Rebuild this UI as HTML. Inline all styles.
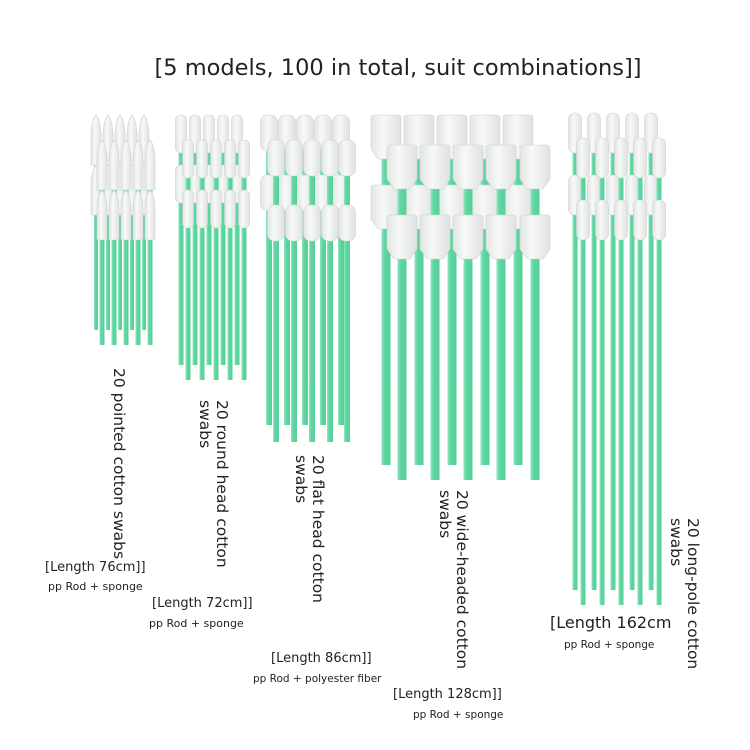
<!DOCTYPE html>
<html><head><meta charset="utf-8"><style>
html,body{margin:0;padding:0;background:#fff;}
svg{display:block;}
text{font-family:"DejaVu Sans","Liberation Sans",sans-serif;fill:#222;}
</style></head><body>
<svg width="750" height="750" viewBox="0 0 750 750" xmlns="http://www.w3.org/2000/svg">
<defs>
<linearGradient id="hg" x1="0" x2="1" y1="0" y2="0"><stop offset="0" stop-color="#e2e5e4"/><stop offset="0.4" stop-color="#f7f8f8"/><stop offset="1" stop-color="#dfe2e1"/></linearGradient>
<linearGradient id="rg" x1="0" x2="1" y1="0" y2="0"><stop offset="0" stop-color="#8fe6bf"/><stop offset="0.35" stop-color="#5fd6a1"/><stop offset="1" stop-color="#55cf98"/></linearGradient>
<g id="p1h"><path d="M-5,50 L-5,18 Q-4,4 0,0 Q4,4 5,18 L5,50 Z" fill="url(#hg)" stroke="#cdd2d0" stroke-width="0.6"/></g>
<g id="c1a"><rect x="-2" y="150" width="4" height="180" fill="url(#rg)"/><use href="#p1h" y="115"/><use href="#p1h" y="165"/></g>
<g id="c1b"><rect x="-2.5" y="160" width="5" height="185" fill="url(#rg)"/><use href="#p1h" y="140"/><use href="#p1h" y="190"/></g>
<g id="p2h"><rect x="-5.5" y="0" width="11" height="38" rx="5" fill="url(#hg)" stroke="#cdd2d0" stroke-width="0.6"/></g>
<g id="c2a"><rect x="-2.5" y="150" width="5" height="215" fill="url(#rg)"/><use href="#p2h" y="115"/><use href="#p2h" y="165"/></g>
<g id="c2b"><rect x="-2.5" y="160" width="5" height="220" fill="url(#rg)"/><use href="#p2h" y="140"/><use href="#p2h" y="190"/></g>
<g id="p3h"><rect x="-8.5" y="0" width="17" height="36" rx="7" fill="url(#hg)" stroke="#cdd2d0" stroke-width="0.6"/></g>
<g id="c3a"><rect x="-3" y="150" width="6" height="275" fill="url(#rg)"/><use href="#p3h" y="115"/><use href="#p3h" y="175"/></g>
<g id="c3b"><rect x="-3" y="170" width="6" height="272" fill="url(#rg)"/><use href="#p3h" y="140"/><use href="#p3h" y="205"/></g>
<g id="p4h"><path d="M-15,3 Q-15,0 -12,0 L12,0 Q15,0 15,3 L15,34 L8,44 L-8,44 L-15,34 Z" fill="url(#hg)" stroke="#cdd2d0" stroke-width="0.6"/></g>
<g id="c4a"><rect x="-4.5" y="150" width="9" height="315" fill="url(#rg)"/><use href="#p4h" y="115"/><use href="#p4h" y="185"/></g>
<g id="c4b"><rect x="-4.5" y="180" width="9" height="300" fill="url(#rg)"/><use href="#p4h" y="145"/><use href="#p4h" y="215"/></g>
<g id="p5h"><rect x="-6.5" y="0" width="13" height="40" rx="6" fill="url(#hg)" stroke="#cdd2d0" stroke-width="0.6"/></g>
<g id="c5a"><rect x="-2.5" y="150" width="5" height="440" fill="url(#rg)"/><use href="#p5h" y="113"/><use href="#p5h" y="175"/></g>
<g id="c5b"><rect x="-2.5" y="170" width="5" height="435" fill="url(#rg)"/><use href="#p5h" y="138"/><use href="#p5h" y="200"/></g>
</defs>

<text x="398" y="75" font-size="22.5" text-anchor="middle">[5 models, 100 in total, suit combinations]]</text>

<use href="#c1a" x="96"/><use href="#c1a" x="108"/><use href="#c1a" x="120"/><use href="#c1a" x="132"/><use href="#c1a" x="144"/>
<use href="#c1b" x="102"/><use href="#c1b" x="114"/><use href="#c1b" x="126"/><use href="#c1b" x="138"/><use href="#c1b" x="150"/>
<use href="#c2a" x="181"/><use href="#c2a" x="195"/><use href="#c2a" x="209"/><use href="#c2a" x="223"/><use href="#c2a" x="237"/>
<use href="#c2b" x="188"/><use href="#c2b" x="202"/><use href="#c2b" x="216"/><use href="#c2b" x="230"/><use href="#c2b" x="244"/>
<use href="#c3a" x="269"/><use href="#c3a" x="287"/><use href="#c3a" x="305"/><use href="#c3a" x="323"/><use href="#c3a" x="341"/>
<use href="#c3b" x="276"/><use href="#c3b" x="294"/><use href="#c3b" x="312"/><use href="#c3b" x="330"/><use href="#c3b" x="347"/>
<use href="#c4a" x="386"/><use href="#c4a" x="419"/><use href="#c4a" x="452"/><use href="#c4a" x="485"/><use href="#c4a" x="518"/>
<use href="#c4b" x="402"/><use href="#c4b" x="435"/><use href="#c4b" x="468"/><use href="#c4b" x="501"/><use href="#c4b" x="535"/>
<use href="#c5a" x="575"/><use href="#c5a" x="594"/><use href="#c5a" x="613"/><use href="#c5a" x="632"/><use href="#c5a" x="651"/>
<use href="#c5b" x="583"/><use href="#c5b" x="602"/><use href="#c5b" x="621"/><use href="#c5b" x="640"/><use href="#c5b" x="659"/>

<g font-size="15.5">
<text transform="translate(114,368) rotate(90)">20 pointed cotton swabs</text>
<text transform="translate(217,400) rotate(90)">20 round head cotton</text>
<text transform="translate(200,400) rotate(90)">swabs</text>
<text transform="translate(313,455) rotate(90)">20 flat head cotton</text>
<text transform="translate(296,455) rotate(90)">swabs</text>
<text transform="translate(457,490) rotate(90)">20 wide-headed cotton</text>
<text transform="translate(440,490) rotate(90)">swabs</text>
<text transform="translate(688,518) rotate(90)">20 long-pole cotton</text>
<text transform="translate(671,518) rotate(90)">swabs</text>
</g>

<text x="45" y="571" font-size="13">[Length 76cm]]</text>
<text x="48" y="590" font-size="11">pp Rod + sponge</text>
<text x="152" y="607" font-size="13">[Length 72cm]]</text>
<text x="149" y="627" font-size="11">pp Rod + sponge</text>
<text x="271" y="662" font-size="13">[Length 86cm]]</text>
<text x="253" y="682" font-size="10.5">pp Rod + polyester fiber</text>
<text x="550" y="628" font-size="16">[Length 162cm</text>
<text x="564" y="648" font-size="10.5">pp Rod + sponge</text>
<text x="393" y="698" font-size="13">[Length 128cm]]</text>
<text x="413" y="718" font-size="10.5">pp Rod + sponge</text>
</svg>
</body></html>
